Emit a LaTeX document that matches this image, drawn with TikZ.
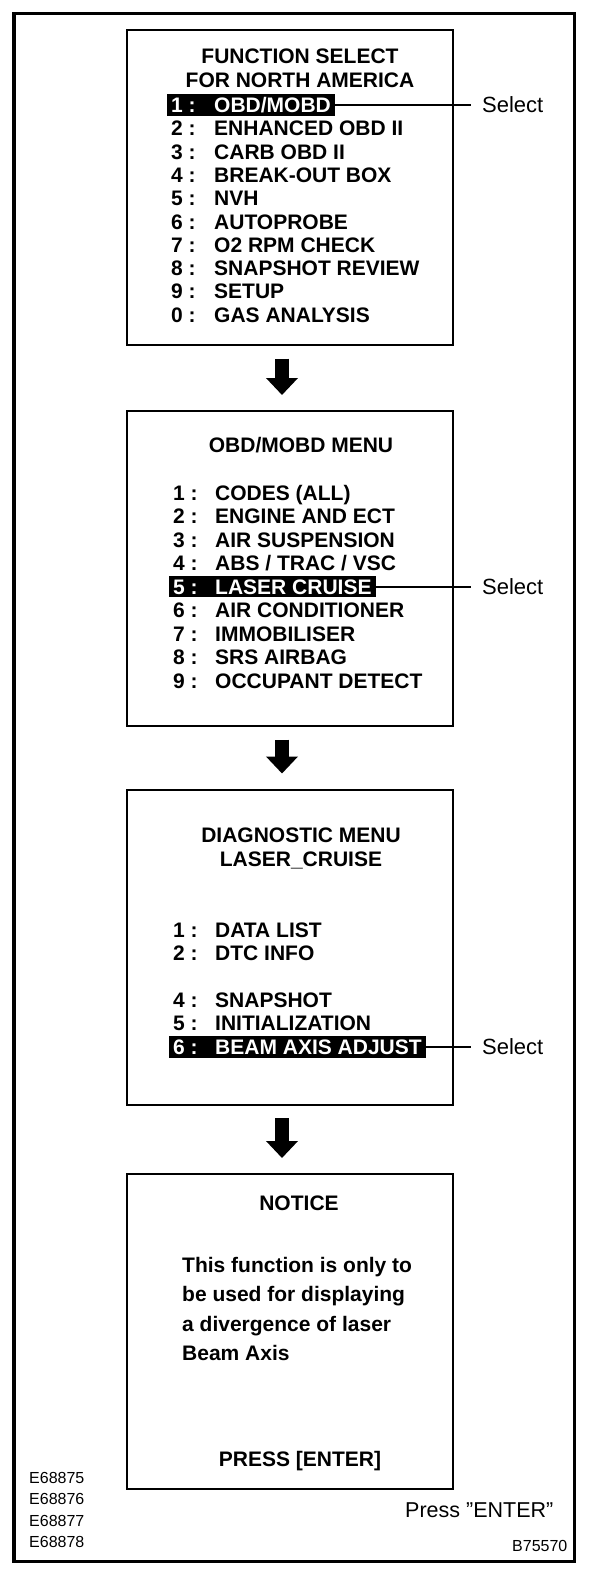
\documentclass[tikz,border=0pt]{standalone}
\usepackage{fontspec}
\setmainfont{Liberation Sans}
\usetikzlibrary{arrows.meta,positioning,calc,fit,backgrounds}

\tikzset{
  scr/.style={draw,line width=2pt,minimum width=326pt,minimum height=315pt,inner sep=0pt},
  ttl/.style={font=\bfseries\fontsize{21}{25}\selectfont,inner sep=0pt,text height=15pt,text depth=0pt},
  num/.style={ttl,anchor=west},
  itm/.style={ttl,anchor=west},
  body/.style={font=\bfseries\fontsize{21}{25}\selectfont,inner sep=0pt,anchor=west,text height=15pt,text depth=0pt},
  hl/.style={fill=black,inner xsep=4pt,inner ysep=3pt},
  sel/.style={font=\fontsize{22}{26}\selectfont,anchor=west,inner sep=0pt},
  selline/.style={line width=2pt,shorten >=11pt},
  down/.style={line width=14pt,-{Triangle[width=31pt,length=17pt]},shorten <=12.5pt,shorten >=15pt},
  code/.style={font=\fontsize{16}{19}\selectfont,anchor=west,inner sep=0pt}
}

\begin{document}
\begin{tikzpicture}[x=1pt,y=-1pt]
\begin{scope}[on background layer]
\fill[white] (0,0) rectangle (608,1572);
\end{scope}
\useasboundingbox (0,0) rectangle (608,1572);
\draw[line width=3.5pt] (14,13.5) rectangle (574.5,1561.5);

% function select
\node[scr] (b1) at (290,187.5) {};
\node[ttl] (t1a) at (300,55.5) {FUNCTION SELECT};
\node[ttl] (t1b) at (300,80) {FOR NORTH AMERICA};
\foreach \n/\t/\c [count=\k from 0] in {1/{OBD/MOBD}/white,2/ENHANCED OBD II/black,
  3/CARB OBD II/black,4/BREAK-OUT BOX/black,5/NVH/black,6/AUTOPROBE/black,
  7/O2 RPM CHECK/black,8/SNAPSHOT REVIEW/black,9/SETUP/black,0/GAS ANALYSIS/black}{
  \node[num,text=\c] (n1-\n) at (171,105+23.3*\k) {\n\ :};
  \node[itm,text=\c] (i1-\n) at (214,105+23.3*\k) {\t};
}
\begin{scope}[on background layer]
\node[hl,fit=(n1-1)(i1-1)] (hl1) {};
\end{scope}
\node[sel] (s1) at (482,105) {Select};
\draw[selline] (hl1.east) -- (s1.west);

% obd/mobd menu
\node[scr] (b2) at (290,568.5) {};
\node[ttl] (t2) at (301,444.5) {OBD/MOBD MENU};
\foreach \n/\t/\c in {1/CODES (ALL)/black,2/ENGINE AND ECT/black,3/AIR SUSPENSION/black,
  4/{ABS / TRAC / VSC}/black,5/LASER CRUISE/white,6/AIR CONDITIONER/black,
  7/IMMOBILISER/black,8/SRS AIRBAG/black,9/OCCUPANT DETECT/black}{
  \node[num,text=\c] (n2-\n) at (173,492.5+23.5*\n-23.5) {\n\ :};
  \node[itm,text=\c] (i2-\n) at (215,492.5+23.5*\n-23.5) {\t};
}
\begin{scope}[on background layer]
\node[hl,fit=(n2-5)(i2-5)] (hl2) {};
\end{scope}
\node[sel] (s2) at (482,586.5) {Select};
\draw[selline] (hl2.east) -- (s2.west);

% diagnostic menu
\node[scr] (b3) at (290,947) {};
\node[ttl] (t3a) at (301,834.5) {DIAGNOSTIC MENU};
\node[ttl] (t3b) at (301,859) {LASER\_CRUISE};
\foreach \n/\t/\c/\y in {1/DATA LIST/black/929.5,2/DTC INFO/black/952.5,
  4/SNAPSHOT/black/999.5,5/INITIALIZATION/black/1022.5,6/BEAM AXIS ADJUST/white/1047}{
  \node[num,text=\c] (n3-\n) at (173,\y) {\n\ :};
  \node[itm,text=\c] (i3-\n) at (215,\y) {\t};
}
\begin{scope}[on background layer]
\node[hl,fit=(n3-6)(i3-6)] (hl3) {};
\end{scope}
\node[sel] (s3) at (482,1047) {Select};
\draw[selline] (hl3.east) -- (s3.west);

% notice
\node[scr] (b4) at (290,1331.5) {};
\node[ttl] (t4) at (299,1203) {NOTICE};
\foreach \t [count=\k from 0] in {This function is only to,be used for displaying,
  a divergence of laser,Beam Axis}
  \node[body] (l4-\k) at (182,1264.5+29.5*\k) {\t};
\node[ttl] (p4) at (300,1458.5) {PRESS [ENTER]};

% arrows
\draw[down] ([xshift=-8pt]b1.south) -- ([xshift=-8pt]b2.north);
\draw[down] ([xshift=-8pt]b2.south) -- ([xshift=-8pt]b3.north);
\draw[down] ([xshift=-8pt]b3.south) -- ([xshift=-8pt]b4.north);

\node[sel,font=\fontsize{21.5}{25}\selectfont] (enter) at (405,1510) {Press ”ENTER”};
\foreach \c [count=\k from 0] in {E68875,E68876,E68877,E68878}
  \node[code] (c\k) at (29,1478+21.3*\k) {\c};
\node[code] (fig) at (512,1546) {B75570};
\end{tikzpicture}
\end{document}
